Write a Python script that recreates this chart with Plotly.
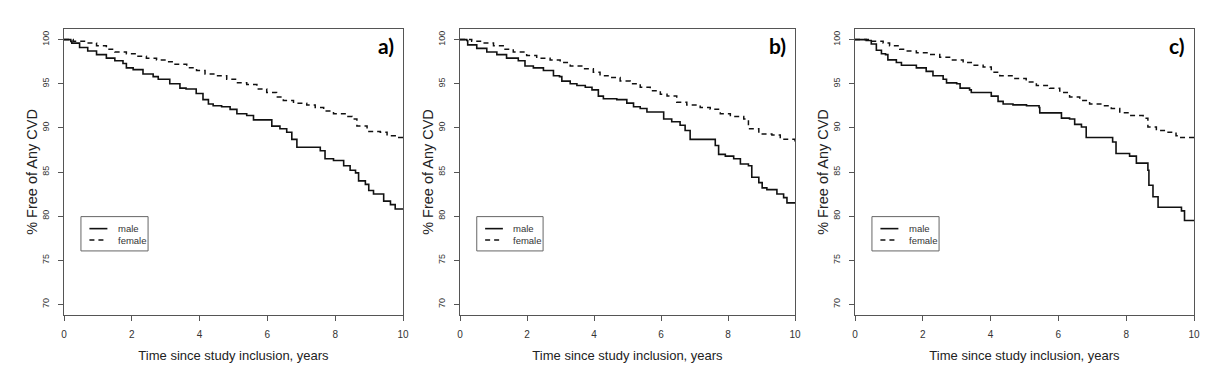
import plotly.graph_objects as go

# ---------------- data ----------------
panel_labels = ["a)", "b)", "c)"]
series_names = ["male", "female"]
x_ticks = [0, 2, 4, 6, 8, 10]
y_ticks = [70, 75, 80, 85, 90, 95, 100]

time_male_a = [0, 0.2, 0.23, 0.46, 0.7, 0.96, 1.25, 1.5, 1.74, 1.84, 2.04, 2.33, 2.63, 2.78, 3.12, 3.42, 3.6,
               3.9, 4.1, 4.26, 4.4, 4.65, 4.9, 5.1, 5.39, 5.59, 6.13, 6.37, 6.57, 6.72, 6.87, 7.56, 7.7, 7.95,
               8.25, 8.44, 8.6, 8.69, 8.89, 8.99, 9.13, 9.43, 9.63, 9.77, 10]
surv_male_a = [100, 99.8, 99.6, 99.1, 98.7, 98.3, 97.9, 97.6, 97.3, 96.8, 96.6, 96.1, 95.8, 95.5, 95.0, 94.5, 94.4,
               93.9, 93.2, 92.7, 92.5, 92.4, 92.1, 91.6, 91.4, 90.9, 90.2, 89.9, 89.5, 88.7, 87.8, 87.4, 86.5, 86.3,
               85.7, 85.2, 84.9, 84.0, 83.6, 82.9, 82.5, 81.7, 81.3, 80.8, 80.8]
time_female_a = [0, 0.27, 0.66, 0.96, 1.25, 1.5, 1.84, 2.14, 2.43, 2.73, 3.02, 3.22, 3.62, 3.91, 4.16, 4.5, 4.8,
                 5.09, 5.39, 5.69, 5.98, 6.27, 6.47, 6.77, 7.16, 7.41, 7.66, 7.95, 8.34, 8.5, 8.64, 8.94, 9.33,
                 9.53, 9.77, 10]
surv_female_a = [100, 99.8, 99.6, 99.3, 98.9, 98.6, 98.4, 98.1, 97.9, 97.7, 97.5, 97.2, 96.8, 96.5, 96.1, 95.9, 95.5,
                 95.1, 94.9, 94.4, 94.0, 93.5, 93.1, 92.8, 92.6, 92.3, 91.9, 91.6, 91.3, 91.0, 90.2, 89.6, 89.5,
                 89.1, 88.9, 88.7]

time_male_b = [0, 0.2, 0.23, 0.5, 0.8, 1.1, 1.39, 1.74, 1.94, 2.19, 2.49, 2.79, 2.97, 3.04, 3.29, 3.49, 3.74, 3.94,
               4.13, 4.28, 4.68, 4.98, 5.18, 5.38, 5.58, 6.08, 6.32, 6.57, 6.72, 6.87, 7.62, 7.72, 7.92, 8.17, 8.37,
               8.61, 8.71, 8.92, 9.02, 9.16, 9.46, 9.66, 9.76, 10]
surv_male_b = [100, 99.9, 99.4, 99.0, 98.6, 98.3, 97.9, 97.6, 97.0, 96.8, 96.5, 95.9, 95.8, 95.3, 95.0, 94.8, 94.6,
               94.3, 93.6, 93.3, 93.2, 92.8, 92.4, 92.2, 91.8, 91.0, 90.7, 90.3, 89.7, 88.7, 88.0, 87.0, 86.8, 86.5,
               85.9, 85.7, 84.4, 83.8, 83.2, 83.0, 82.5, 82.1, 81.5, 81.5]
time_female_b = [0, 0.35, 0.7, 1.0, 1.29, 1.59, 1.99, 2.29, 2.69, 2.99, 3.29, 3.69, 3.98, 4.18, 4.48, 4.78, 5.08,
                 5.38, 5.68, 5.98, 6.18, 6.47, 6.77, 7.17, 7.47, 7.77, 8.07, 8.47, 8.61, 8.92, 9.31, 9.56, 10]
surv_female_b = [100, 99.8, 99.6, 99.3, 98.9, 98.6, 98.2, 97.9, 97.7, 97.4, 97.0, 96.7, 96.3, 95.9, 95.7, 95.3, 95.0,
                 94.6, 94.2, 93.8, 93.6, 92.9, 92.6, 92.3, 92.1, 91.6, 91.3, 91.0, 89.9, 89.3, 89.2, 88.7, 88.4]

time_male_c = [0, 0.33, 0.48, 0.63, 0.78, 0.9, 0.97, 1.22, 1.37, 1.81, 2.1, 2.3, 2.6, 2.7, 3.0, 3.1, 3.38, 3.43,
               4.02, 4.22, 4.37, 4.66, 5.06, 5.43, 5.45, 6.09, 6.33, 6.48, 6.68, 6.82, 7.6, 7.7, 8.1, 8.3, 8.64,
               8.67, 8.79, 8.94, 9.63, 9.72, 10]
surv_male_c = [100, 99.9, 99.5, 98.8, 98.4, 98.3, 97.7, 97.4, 97.1, 96.8, 96.4, 95.9, 95.5, 95.1, 95.0, 94.5, 94.3,
               94.0, 93.6, 93.0, 92.7, 92.6, 92.5, 92.3, 91.7, 91.1, 91.0, 90.4, 90.1, 88.9, 88.4, 87.1, 86.8, 86.0,
               85.2, 83.5, 82.2, 81.0, 80.6, 79.5, 79.5]
time_female_c = [0, 0.43, 0.83, 1.02, 1.32, 1.51, 1.81, 2.2, 2.5, 2.79, 3.19, 3.48, 3.78, 4.02, 4.27, 4.66, 5.05,
                 5.35, 5.74, 6.04, 6.33, 6.63, 6.92, 7.36, 7.56, 7.81, 8.1, 8.5, 8.64, 8.89, 9.18, 9.47, 9.57, 10]
surv_female_c = [100, 99.8, 99.6, 99.3, 98.9, 98.7, 98.5, 98.3, 98.0, 97.7, 97.4, 97.1, 96.9, 96.3, 95.9, 95.6, 95.2,
                 94.8, 94.5, 94.0, 93.5, 93.1, 92.7, 92.5, 92.2, 91.7, 91.4, 91.1, 90.1, 89.7, 89.5, 89.1, 88.9, 88.5]

panels_data = [
    (time_male_a, surv_male_a, time_female_a, surv_female_a),
    (time_male_b, surv_male_b, time_female_b, surv_female_b),
    (time_male_c, surv_male_c, time_female_c, surv_female_c),
]

# ---------------- layout ----------------
W, H = 1228, 381
x_domains = [[64 / W, 403 / W], [460 / W, 795 / W], [855 / W, 1194 / W]]
y_domain = [1 - 315 / H, 1 - 29 / H]
FONT = "Liberation Sans, Arial, sans-serif"
AXIS_COLOR = "#555555"
LINE_COLOR = "#111111"

fig = go.Figure()
shapes = []
annotations = []

for i, (tm, sm, tf, sf) in enumerate(panels_data):
    sfx = "" if i == 0 else str(i + 1)
    xa, ya = "x" + sfx, "y" + sfx
    fig.add_trace(go.Scatter(x=tm, y=sm, mode="lines", line_shape="hv", name=series_names[0],
                             line=dict(color=LINE_COLOR, width=1.6), xaxis=xa, yaxis=ya, showlegend=False))
    fig.add_trace(go.Scatter(x=tf, y=sf, mode="lines", line_shape="hv", name=series_names[1],
                             line=dict(color=LINE_COLOR, width=1.5, dash="5px,4px"), xaxis=xa, yaxis=ya,
                             showlegend=False))

    fig.layout["xaxis" + sfx] = dict(
        domain=x_domains[i], anchor=ya, range=[0, 10], tickvals=x_ticks, automargin=False,
        ticks="outside", ticklen=5, tickcolor=AXIS_COLOR, tickwidth=1,
        showline=True, linecolor=AXIS_COLOR, linewidth=1, mirror=True,
        showgrid=False, zeroline=False, ticklabelstandoff=5,
        tickfont=dict(family=FONT, size=10, color="#333333"),
        title=dict(text="Time since study inclusion, years", standoff=11,
                   font=dict(family=FONT, size=13, color="#222222")),
    )
    fig.layout["yaxis" + sfx] = dict(
        domain=y_domain, anchor=xa, range=[68.8, 101.2], tickvals=y_ticks, automargin=False,
        ticks="outside", ticklen=5, tickcolor=AXIS_COLOR, tickwidth=1,
        showline=True, linecolor=AXIS_COLOR, linewidth=1, mirror=True,
        showgrid=False, zeroline=False, tickangle=-90, ticklabelstandoff=5,
        tickfont=dict(family=FONT, size=9, color="#333333"),
        title=dict(text="% Free of Any CVD", standoff=0,
                   font=dict(family=FONT, size=14.5, color="#222222")),
    )

    xr, yr = xa + " domain", ya + " domain"
    # panel label
    annotations.append(dict(text="<b>" + panel_labels[i] + "</b>", xref=xr, yref=yr, x=0.978, y=0.944,
                            xanchor="right", yanchor="middle", showarrow=False,
                            font=dict(family="Lato, Open Sans, sans-serif", size=21, color="#000000")))
    # legend box
    shapes.append(dict(type="rect", xref=xr, yref=yr, x0=0.050, x1=0.248, y0=0.224, y1=0.344,
                       line=dict(color="#666666", width=1), fillcolor="white", layer="above"))
    shapes.append(dict(type="line", xref=xr, yref=yr, x0=0.075, x1=0.128, y0=0.302, y1=0.302,
                       line=dict(color=LINE_COLOR, width=1.6), layer="above"))
    shapes.append(dict(type="line", xref=xr, yref=yr, x0=0.075, x1=0.128, y0=0.262, y1=0.262,
                       line=dict(color=LINE_COLOR, width=1.5, dash="5px,4px"), layer="above"))
    for name, yy in zip(series_names, [0.302, 0.262]):
        annotations.append(dict(text=name, xref=xr, yref=yr, x=0.152, y=yy, xanchor="left", yanchor="middle",
                                showarrow=False, font=dict(family=FONT, size=9.5, color="#333333")))

fig.update_layout(
    width=W, height=H, margin=dict(l=0, r=0, t=0, b=0, autoexpand=False),
    paper_bgcolor="white", plot_bgcolor="white",
    shapes=shapes, annotations=annotations, showlegend=False,
)

fig.write_html("out.html", config={"displayModeBar": False},
               post_script="document.body.style.margin='0';document.body.style.overflow='hidden';")
